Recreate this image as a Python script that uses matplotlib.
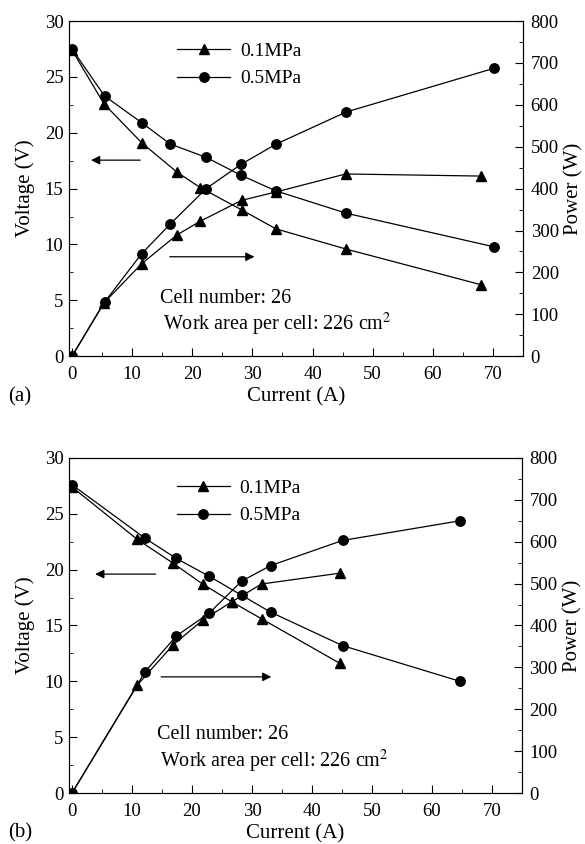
import matplotlib
matplotlib.use('Agg')
import matplotlib.pyplot as plt
from matplotlib.ticker import MultipleLocator

plt.rcParams['font.family'] = ['Liberation Serif', 'DejaVu Serif']
plt.rcParams['mathtext.fontset'] = 'stix'

# Panel (a) data
a_cur_01 = [0, 5.3, 11.6, 17.4, 21.3, 28.2, 33.9, 45.5, 68.0]
a_volt_01 = [27.4, 22.6, 19.1, 16.5, 15.1, 13.1, 11.4, 9.6, 6.4]
a_pow_01 = [0, 127, 221, 289, 322, 372, 392, 435, 430]
a_cur_05 = [0, 5.4, 11.6, 16.3, 22.3, 28.1, 33.9, 45.6, 70.1]
a_volt_05 = [27.5, 23.3, 20.9, 19.0, 17.8, 16.2, 14.8, 12.8, 9.8]
a_pow_05 = [0, 129, 245, 315, 400, 458, 506, 583, 687]

# Panel (b) data
b_cur_01 = [0, 10.9, 16.8, 21.8, 26.7, 31.6, 44.7]
b_volt_01 = [27.4, 22.7, 20.6, 18.7, 17.1, 15.6, 11.6]
b_pow_01 = [0, 258, 353, 413, 457, 499, 525]
b_cur_05 = [0, 12.2, 17.4, 22.9, 28.3, 33.1, 45.1, 64.7]
b_volt_05 = [27.6, 22.8, 21.0, 19.4, 17.7, 16.2, 13.2, 10.0]
b_pow_05 = [0, 290, 375, 430, 506, 543, 603, 650]

labels = ['0.1MPa', '0.5MPa']


def draw_panel(fig, rect, c1, v1, p1, c2, v2, p2, tag, left_arrow, right_arrow, text_x):
    ax = fig.add_axes(rect)
    ax2 = ax.twinx()
    kw = dict(color='black', linewidth=0.9, markersize=6.8)
    h1, = ax.plot(c1, v1, marker='^', **kw)
    h2, = ax.plot(c2, v2, marker='o', **kw)
    ax2.plot(c1, p1, marker='^', **kw)
    ax2.plot(c2, p2, marker='o', **kw)

    ax.set_xlim(-0.5, 75)
    ax.set_ylim(0, 30)
    ax2.set_ylim(0, 800)
    ax.xaxis.set_major_locator(MultipleLocator(10))
    ax.xaxis.set_minor_locator(MultipleLocator(5))
    ax.yaxis.set_major_locator(MultipleLocator(5))
    ax.yaxis.set_minor_locator(MultipleLocator(2.5))
    ax2.yaxis.set_major_locator(MultipleLocator(100))
    ax2.yaxis.set_minor_locator(MultipleLocator(50))
    for a in (ax, ax2):
        a.tick_params(which='both', direction='in', labelsize=13.5, top=False, pad=4)
        a.tick_params(which='major', length=6)
        a.tick_params(which='minor', length=3)
    ax.tick_params(axis='x', pad=7)
    ax2.tick_params(axis='y', pad=5.5)
    ax.tick_params(axis='y', which='both', right=False)
    for s in ax.spines.values():
        s.set_color('#333333')

    ax.set_xlabel('Current (A)', fontsize=15, labelpad=3)
    ax.set_ylabel('Voltage (V)', fontsize=15, labelpad=7)
    ax2.set_ylabel('Power (W)', fontsize=15, labelpad=4)

    ax.legend([h1, h2], labels, loc='upper left', bbox_to_anchor=(0.216, 0.965),
              frameon=False, fontsize=14, handlelength=2.75, numpoints=1,
              labelspacing=0.5, handletextpad=0.5, borderpad=0)

    ax.annotate('', xy=(left_arrow[1], left_arrow[2]), xytext=(left_arrow[0], left_arrow[2]),
                arrowprops=dict(arrowstyle='-|>', color='black', lw=0.9, mutation_scale=13))
    ax.annotate('', xy=(right_arrow[1], right_arrow[2]), xytext=(right_arrow[0], right_arrow[2]),
                arrowprops=dict(arrowstyle='-|>', color='black', lw=0.9, mutation_scale=13))

    ax.text(text_x[0], 5.2, 'Cell number: 26', fontsize=14.5, va='center')
    ax.text(text_x[1], 2.8, 'Work area per cell: 226 cm$^2$', fontsize=14.5, va='center')
    ax.text(-0.135, -0.12, tag, transform=ax.transAxes, fontsize=15, va='center')
    return ax


fig = plt.figure(figsize=(5.85, 8.44), dpi=100)
draw_panel(fig, [0.118, 0.578, 0.776, 0.397],
           a_cur_01, a_volt_01, a_pow_01, a_cur_05, a_volt_05, a_pow_05,
           '(a)', (11.8, 2.7, 17.55), (15.8, 30.8, 8.9), (14.7, 15.2))
draw_panel(fig, [0.118, 0.0604, 0.774, 0.397],
           b_cur_01, b_volt_01, b_pow_01, b_cur_05, b_volt_05, b_pow_05,
           '(b)', (14.4, 3.4, 19.6), (14.4, 33.7, 10.4), (14.2, 14.7))

plt.savefig('out.png', dpi=100)
